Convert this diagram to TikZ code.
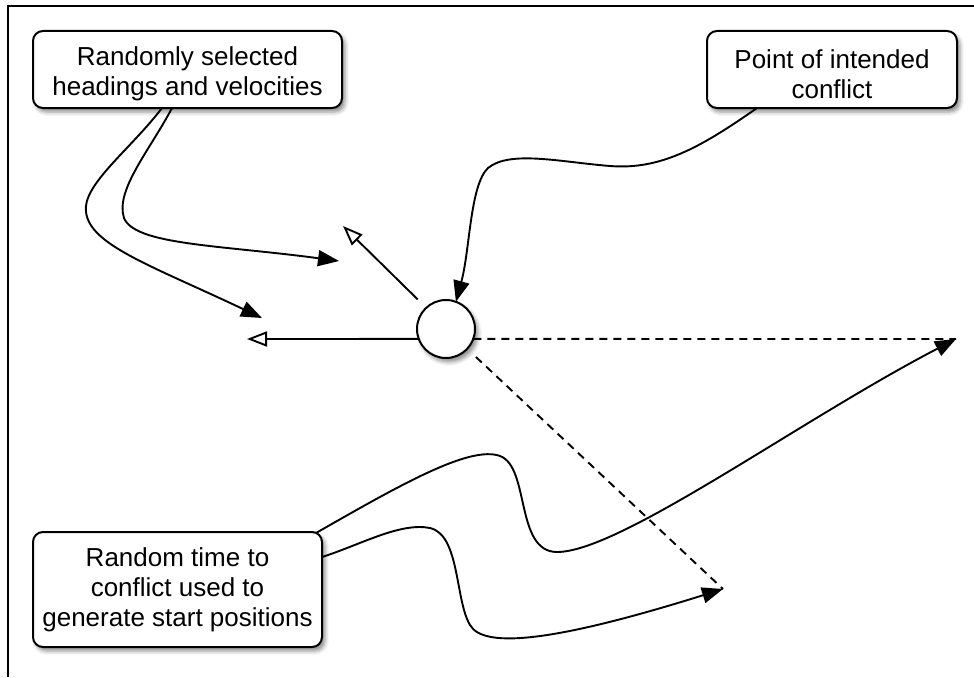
\documentclass[tikz,border=0pt]{standalone}
\usepackage{fontspec}
\setmainfont{Liberation Sans}
\usetikzlibrary{arrows.meta,calc,shadows.blur}
\newcommand{\topgap}{\rule{0pt}{28pt}}
\begin{document}
\begin{tikzpicture}[x=1pt,y=-1pt,
  shd/.style={blur shadow={shadow xshift=3pt, shadow yshift=-4pt, shadow blur radius=4pt, shadow opacity=45}},
  lbl/.style={draw, line width=2pt, rounded corners=10pt, fill=white, align=center,
    inner sep=0pt, outer sep=0pt, font=\fontsize{26}{30}\selectfont, shd},
  pt/.style={draw, circle, line width=2pt, fill=white, minimum size=58pt, inner sep=0pt, outer sep=0pt, shd},
  arr/.style={line width=1.9pt, -{Triangle[length=21pt,width=16pt]}},
  oarr/.style={line width=1.9pt, -{Triangle[open,length=20pt,width=15pt,line width=1.9pt]}},
  dsh/.style={line width=1.9pt, dash pattern=on 8pt off 6pt},
  frame/.style={line width=1.3pt}
]
\useasboundingbox (0,0) rectangle (974,677);
% frame
\coordinate (ftr) at (974,6);
\coordinate (ftl) at (8,6);
\coordinate (fbl) at (8,677);
\draw[frame] (ftr) -- (ftl) -- (fbl);

% nodes
\node[lbl, minimum width=309pt, minimum height=77pt] (box1) at (187.5,69.5) {\topgap Randomly selected\\headings and velocities};
\node[lbl, minimum width=250pt, minimum height=77pt] (box2) at (832,69.5) {\topgap Point of intended\\conflict};
\node[lbl, minimum width=289pt, minimum height=115pt] (box3) at (177.5,589.5) {Random time to\\conflict used to\\generate start positions};
\node[pt] (c) at (446,329) {};

% free ends
\coordinate (hl) at (247,339);
\coordinate (ul) at (343,226);
\coordinate (t1) at (262,318);
\coordinate (t2) at (339,261);
\coordinate (hr) at (956,339);
\coordinate (dr) at (723,589);

% dashed lines
\draw[dsh] (c.-20) -- (hr);
\draw[dsh, shorten <=12pt] (c.-43) -- (dr);

% open arrows
\draw[oarr] (c.200) -- (hl);
\draw[oarr, shorten <=12pt] (c.133) -- (ul);

% curves from box1
\draw[arr] ($(box1.south west)+(129,0)$) .. controls (130,150) and (82,185) .. (86,212)
   .. controls (90,245) and (150,265) .. (t1);
\draw[arr] ($(box1.south west)+(139,0)$) .. controls (150,150) and (115,190) .. (124,218)
   .. controls (135,245) and (220,245) .. (t2);

% curve from box2
\draw[arr] ($(box2.south west)+(50,0)$) .. controls (700,148) and (660,170) .. (610,166)
   .. controls (560,162) and (510,150) .. (488,168)
   .. controls (470,185) and (470,250) .. (c.70);

% curves from box3
\draw[arr] ($(box3.north east)+(-6,1)$) .. controls (400,485) and (470,445) .. (500,456)
   .. controls (530,467) and (515,552) .. (557,552)
   .. controls (620,552) and (800,420) .. (hr);
\draw[arr] ($(box3.north east)+(0,25)$) .. controls (360,545) and (400,522) .. (430,528)
   .. controls (460,535) and (455,600) .. (470,625)
   .. controls (484,650) and (560,640) .. (dr);
\end{tikzpicture}
\end{document}
